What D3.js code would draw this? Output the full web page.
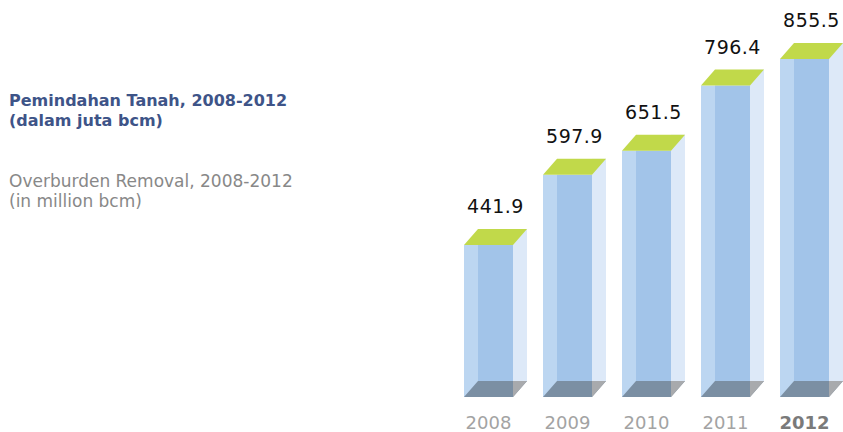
<!DOCTYPE html>
<html>
<head>
<meta charset="utf-8">
<script src="https://cdn.jsdelivr.net/npm/d3@7"></script>
<style>
  body { margin: 0; background: #fff; }
  svg { display: block; }
  text { font-family: "DejaVu Sans", sans-serif; }
</style>
</head>
<body>
<div id="chart"></div>
<script>
// data
var years = ["2008", "2009", "2010", "2011", "2012"]
var removal = [441.9, 597.9, 651.5, 796.4, 855.5]
var titleId = ["Pemindahan Tanah, 2008-2012", "(dalam juta bcm)"]
var titleEn = ["Overburden Removal, 2008-2012", "(in million bcm)"]

var width = 843, height = 432
var depthX = 14, depthY = 16

var svg = d3.select("#chart").append("svg")
    .attr("width", width)
    .attr("height", height)

var x = d3.scaleBand()
    .domain(years)
    .range([464, 829])
    .paddingInner(30 / 79)
    .paddingOuter(0)

var y = d3.scaleLinear()
    .domain([104, 855.5])
    .range([397, 59])

var bw = x.bandwidth()
var base = y.range()[0]

var data = years.map(function (d, i) { return { year: d, value: removal[i] } })

var bar = svg.selectAll(".bar")
  .data(data)
  .enter()
  .append("g")
  .attr("class", "bar")

// front face (light strip on the left)
bar.append("rect")
  .attr("x", function (d) { return x(d.year) })
  .attr("y", function (d) { return y(d.value) })
  .attr("width", bw)
  .attr("height", function (d) { return base - y(d.value) })
  .attr("fill", "#bcd6f1")

// back face part outside the front (right strip)
bar.append("rect")
  .attr("x", function (d) { return x(d.year) + bw })
  .attr("y", function (d) { return y(d.value) - depthY })
  .attr("width", depthX)
  .attr("height", function (d) { return base - y(d.value) })
  .attr("fill", "#dde9f8")

// overlap of front and back
bar.append("rect")
  .attr("x", function (d) { return x(d.year) + depthX })
  .attr("y", function (d) { return y(d.value) })
  .attr("width", bw - depthX)
  .attr("height", function (d) { return base - depthY - y(d.value) })
  .attr("fill", "#a2c4e9")

// floor
bar.append("path")
  .attr("d", function (d) {
    var x0 = x(d.year)
    return "M" + x0 + "," + base +
      "L" + (x0 + depthX) + "," + (base - depthY) +
      "L" + (x0 + bw + depthX) + "," + (base - depthY) +
      "L" + (x0 + bw) + "," + base + "Z"
  })
  .attr("fill", "#7b8fa3")

bar.append("path")
  .attr("d", function (d) {
    var x0 = x(d.year) + bw
    return "M" + x0 + "," + base +
      "L" + (x0 + depthX) + "," + (base - depthY) +
      "L" + x0 + "," + (base - depthY) + "Z"
  })
  .attr("fill", "#a8aaad")

// top lid
bar.append("path")
  .attr("d", function (d) {
    var x0 = x(d.year), t = y(d.value)
    return "M" + x0 + "," + t +
      "L" + (x0 + depthX) + "," + (t - depthY) +
      "L" + (x0 + bw + depthX) + "," + (t - depthY) +
      "L" + (x0 + bw) + "," + t + "Z"
  })
  .attr("fill", "#c1d94a")

// value labels
bar.append("text")
  .attr("x", function (d) { return x(d.year) + (bw + depthX) / 2 })
  .attr("y", function (d) { return y(d.value) - depthY - 16 })
  .attr("text-anchor", "middle")
  .attr("font-size", "19px")
  .attr("letter-spacing", "0.5px")
  .attr("fill", "#111")
  .text(function (d) { return d.value.toFixed(1) })

// year labels
svg.selectAll(".year")
  .data(years)
  .enter()
  .append("text")
  .attr("class", "year")
  .attr("x", function (d) { return x(d) + bw / 2 })
  .attr("y", 429)
  .attr("text-anchor", "middle")
  .attr("font-size", "18px")
  .attr("font-weight", function (d, i) { return i === years.length - 1 ? "bold" : "normal" })
  .attr("fill", function (d, i) { return i === years.length - 1 ? "#7a7a7a" : "#a3a3a3" })
  .text(function (d) { return d })

// titles
svg.selectAll(".title-id")
  .data(titleId)
  .enter()
  .append("text")
  .attr("class", "title-id")
  .attr("x", 9)
  .attr("y", function (d, i) { return 106 + i * 20 })
  .attr("font-size", "16px")
  .attr("font-weight", "bold")
  .attr("fill", "#3e5488")
  .text(function (d) { return d })

svg.selectAll(".title-en")
  .data(titleEn)
  .enter()
  .append("text")
  .attr("class", "title-en")
  .attr("x", 9)
  .attr("y", function (d, i) { return 187 + i * 20 })
  .attr("font-size", "17px")
  .attr("fill", "#888888")
  .text(function (d) { return d })
</script>
</body>
</html>
